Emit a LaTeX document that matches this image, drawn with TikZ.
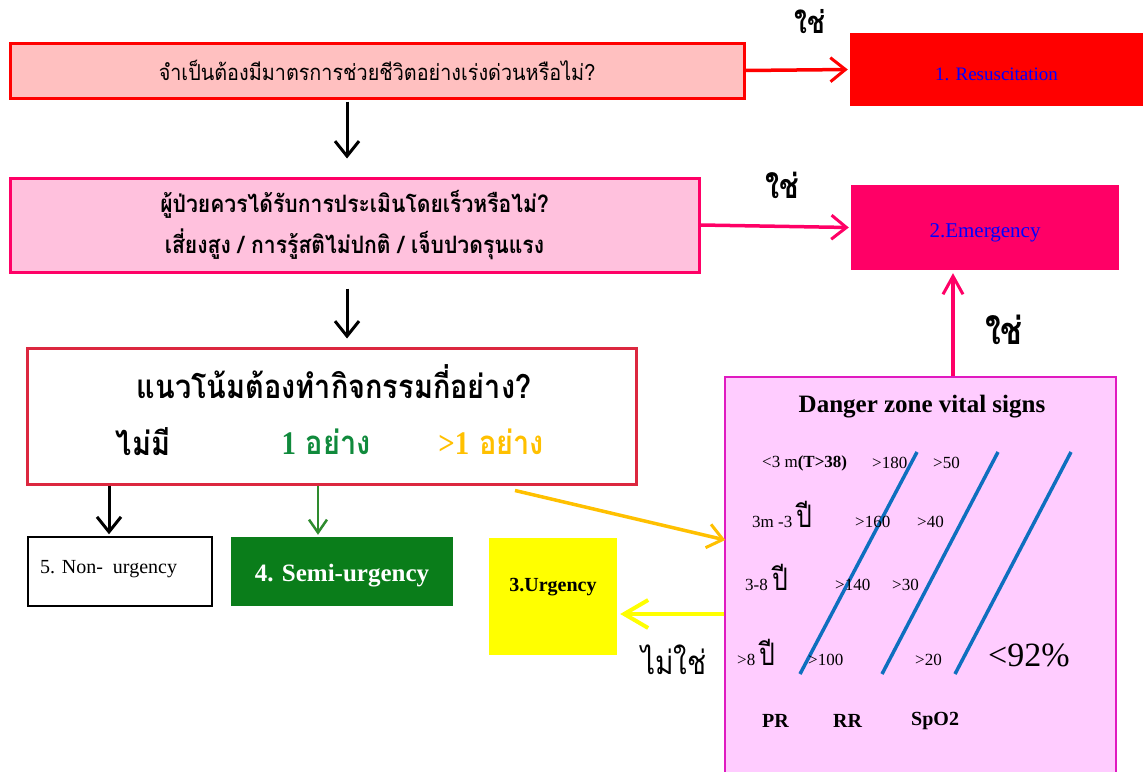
\documentclass[tikz,border=0pt]{standalone}
\usepackage{fontspec}
\usepackage{graphicx}
\setmainfont{Liberation Serif}
\newfontfamily\thai[Script=Thai]{Loma}
\usetikzlibrary{arrows.meta}
\definecolor{bxonefill}{HTML}{FFC0C0}
\definecolor{resred}{HTML}{FF0000}
\definecolor{bxtwofill}{HTML}{FFC1DD}
\definecolor{hotpink}{HTML}{FF0066}
\definecolor{crimsonb}{HTML}{DC283F}
\definecolor{txtgreen}{HTML}{108A3C}
\definecolor{gold}{HTML}{FFC000}
\definecolor{semigreen}{HTML}{0A7D1A}
\definecolor{arrgreen}{HTML}{2E8B2E}
\definecolor{yel}{HTML}{FFFF00}
\definecolor{dzfill}{HTML}{FFCCFF}
\definecolor{dzborder}{HTML}{E01AC0}
\definecolor{lineblue}{HTML}{0F6FBF}
\definecolor{txtblue}{HTML}{0000FF}
\newcommand{\thx}[2]{\scalebox{#1}[1]{#2}}
\tikzset{
  box/.style={draw, rectangle, inner sep=0pt, align=center},
  arr/.style={-{Straight Barb[length=15pt,width=24pt,line width=3pt]}, line width=3.5pt},
  fs/.style={font=\fontsize{#1}{#1}\selectfont},
  big/.style={font=\thai\bfseries\fontsize{33}{33}\selectfont},
}
\begin{document}
\begin{tikzpicture}[x=1pt,y=-1pt]
\useasboundingbox (0,0) rectangle (1143,771);
% boxes
\node[box, fill=bxonefill, draw=resred, line width=3pt, minimum width=734pt, minimum height=55pt] (b1) at (377,70.5)
  {\thai\fontsize{22}{22}\selectfont\thx{0.9}{จำเป็นต้องมีมาตรการช่วยชีวิตอย่างเร่งด่วนหรือไม่?}};
\node[box, fill=resred, draw=none, minimum width=293pt, minimum height=73pt] (res) at (996.5,69.5) {};
\node[text=txtblue, fs=19] (rest) at ([yshift=-5pt]res.center) {1. Resuscitation};
\node[box, fill=bxtwofill, draw=hotpink, line width=3pt, minimum width=689pt, minimum height=94pt,
  font=\thai\bfseries\fontsize{24}{30}\selectfont] (b2) at (354.5,225)
  {\thx{0.88}{ผู้ป่วยควรได้รับการประเมินโดยเร็วหรือไม่?}\\[10pt] \thx{0.88}{เสี่ยงสูง / การรู้สติไม่ปกติ / เจ็บปวดรุนแรง}};
\node[box, fill=hotpink, draw=none, minimum width=268pt, minimum height=85pt] (em) at (985,227.5) {};
\node[text=txtblue, fs=21] (emt) at ([yshift=-5pt]em.center) {2.Emergency};
\node[box, fill=white, draw=crimsonb, line width=3pt, minimum width=609pt, minimum height=136pt] (b3) at (331.5,416) {};
\node[big] (q3) at (334,382) {\thx{0.875}{แนวโน้มต้องทำกิจกรรมกี่อย่าง?}};
\node[big] (o0) at (143,442) {\thx{0.875}{ไม่มี}};
\node[big, text=txtgreen] (o1) at (326,442) {\thx{0.875}{{\bfseries\rmfamily 1} อย่าง}};
\node[big, text=gold] (o2) at (491,442) {\thx{0.875}{{\bfseries\rmfamily >1} อย่าง}};
\node[box, fill=white, draw=black, line width=1.5pt, minimum width=184pt, minimum height=69pt] (nu) at (120,571.5) {};
\node[fs=20, anchor=west, inner sep=0pt] (nut) at (40,569) {5. Non-\ \ urgency};
\node[box, fill=semigreen, draw=none, minimum width=222pt, minimum height=69pt] (su) at (342,571.5) {};
\node[text=white, font=\bfseries\fontsize{25}{25}\selectfont] (sut) at ([yshift=-4pt]su.center) {4. Semi-urgency};
\node[box, fill=yel, draw=none, minimum width=128pt, minimum height=117pt] (ug) at (553,596.5) {};
\node[font=\bfseries\fontsize{20}{20}\selectfont] (ugt) at ([yshift=9pt]ug.center) {3.Urgency};
\node[box, fill=dzfill, draw=dzborder, line width=1.5pt, minimum width=391pt, minimum height=398pt] (dz) at (920.5,576) {};
% labels
\node[font=\thai\bfseries\fontsize{31}{31}\selectfont] (y1) at (810,22) {\thx{0.85}{ใช่}};
\node[font=\thai\bfseries\fontsize{34}{34}\selectfont] (y2) at (782,185) {\thx{0.85}{ใช่}};
\node[font=\thai\bfseries\fontsize{38}{38}\selectfont] (y3) at (1004,330) {\thx{0.85}{ใช่}};
\node[font=\thai\fontsize{33}{33}\selectfont] (n1) at (674,660) {\thx{0.85}{ไม่ใช่}};
% connectors
\draw[arr, draw=resred] (b1.east) -- ([xshift=-2pt]res.west);
\draw[arr, draw=hotpink] (b2.east) -- ([xshift=-2pt]em.west);
\draw[arr, draw=black, line width=3pt] ([xshift=-30pt,yshift=-2pt]b1.south) -- ([xshift=-7.5pt,yshift=18pt]b2.north);
\draw[arr, draw=black, line width=3pt] ([xshift=-7.5pt,yshift=-15pt]b2.south) -- ([xshift=15.5pt,yshift=8pt]b3.north);
\draw[arr, draw=black, line width=3pt] ([xshift=-222.5pt]b3.south) -- ([xshift=-11pt,yshift=2pt]nu.north);
\draw[-{Straight Barb[length=13pt,width=18pt,line width=2.5pt]}, draw=arrgreen, line width=2.5pt] ([xshift=-13.5pt]b3.south) -- ([xshift=-24pt,yshift=2pt]su.north);
\draw[arr, draw=gold] ([xshift=183.5pt,yshift=-5pt]b3.south) -- ([xshift=1pt,yshift=36pt]dz.west);
\draw[-{Straight Barb[length=24pt,width=28pt,line width=4pt]}, draw=yel, line width=4pt] ([yshift=-38pt]dz.west) -- ([xshift=3pt,yshift=-17.5pt]ug.east);
\draw[-{Straight Barb[length=18pt,width=20pt,line width=3pt]}, line width=3.5pt, draw=hotpink] ([xshift=32.5pt]dz.north) -- ([xshift=-32pt,yshift=-3pt]em.south);
% danger zone content
\node[font=\bfseries\fontsize{25}{25}\selectfont] (dzt) at (922,407) {Danger zone vital signs};
\draw[lineblue, line width=3.5pt] (800,674) -- (917,452);
\draw[lineblue, line width=3.5pt] (882,674) -- (998,452);
\draw[lineblue, line width=3.5pt] (955,674) -- (1071,452);
\tikzset{sm/.style={font=\fontsize{17}{17}\selectfont, inner sep=0pt, anchor=west}}
\newcommand{\pee}{{\thai\fontsize{31}{31}\selectfont\thx{0.8}{ปี}}}
\node[sm] (r1a) at (762,463) {<3 m\textbf{(T>38)}};
\node[sm] (r1b) at (872,463) {>180};
\node[sm] (r1c) at (933,463) {>50};
\node[sm, anchor=base west] (r2a) at (752,527) {3m -3 \pee};
\node[sm] (r2b) at (855,522) {>160};
\node[sm] (r2c) at (917,522) {>40};
\node[sm, anchor=base west] (r3a) at (745,590) {3-8 \pee};
\node[sm] (r3b) at (835,585) {>140};
\node[sm] (r3c) at (892,585) {>30};
\node[sm, anchor=base west] (r4a) at (737,665) {>8 \pee};
\node[sm] (r4b) at (808,660) {>100};
\node[sm] (r4c) at (915,660) {>20};
\node[sm, font=\fontsize{34}{34}\selectfont] (r4d) at (988,655) {<92\%};
\tikzset{hd/.style={font=\bfseries\fontsize{20}{20}\selectfont, inner sep=0pt, anchor=west}}
\node[hd] (pr) at (762,721) {PR};
\node[hd] (rr) at (833,721) {RR};
\node[hd] (sp) at (911,721) {SpO2};
\end{tikzpicture}
\end{document}
